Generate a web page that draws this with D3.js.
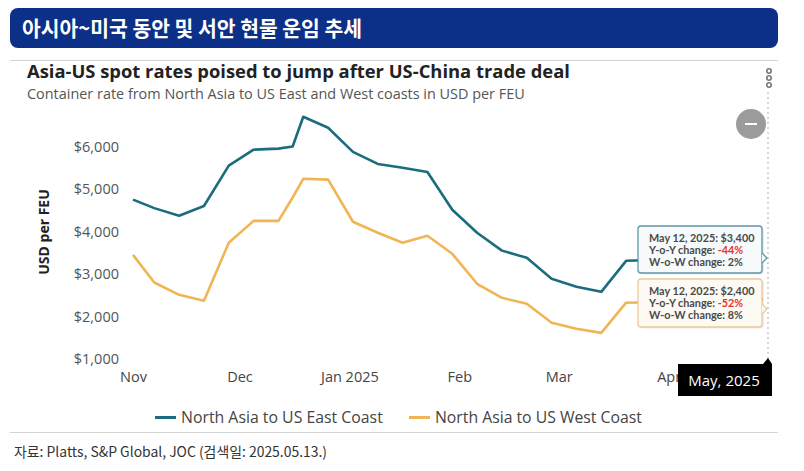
<!DOCTYPE html>
<html>
<head>
<meta charset="utf-8">
<script src="https://cdn.jsdelivr.net/npm/d3@7"></script>
<style>
  body { margin: 0; background: #fff; }
  svg { display: block; }
</style>
</head>
<body>
<svg id="chart" width="804" height="471"></svg>
<script>
// Asia-US spot rates, weekly, USD per FEU
const dates = ["2024-10-31", "2024-11-07", "2024-11-14", "2024-11-21", "2024-11-28",
               "2024-12-05", "2024-12-12", "2024-12-16", "2024-12-19", "2024-12-26",
               "2025-01-02", "2025-01-09", "2025-01-16", "2025-01-23", "2025-01-30",
               "2025-02-06", "2025-02-13", "2025-02-20", "2025-02-27", "2025-03-06",
               "2025-03-13", "2025-03-20", "2025-05-12"];
const eastCoast = [4750, 4550, 4370, 4600, 5550, 5925, 5950, 6000, 6700, 6440,
                   5875, 5590, 5500, 5400, 4510, 3970, 3550, 3380, 2890, 2700,
                   2580, 3310, 3400];
const westCoast = [3450, 2800, 2510, 2370, 3735, 4250, 4250, 4800, 5240, 5220,
                   4230, 3970, 3735, 3900, 3475, 2770, 2440, 2300, 1855, 1710,
                   1615, 2325, 2400];
const seriesNames = ["North Asia to US East Coast", "North Asia to US West Coast"];
const seriesColors = ["#1b6d7e", "#f0b554"];

const yTicks = [1000, 2000, 3000, 4000, 5000, 6000];
const xTickDates = ["2024-11-01", "2024-12-01", "2025-01-01", "2025-02-01", "2025-03-01", "2025-04-01"];
const xTickLabels = ["Nov", "Dec", "Jan 2025", "Feb", "Mar", "Apr"];

// Tooltip du dernier point
const tipDate = "May 12, 2025";
const tipValues = ["$3,400", "$2,400"];
const tipYoY = ["-44%", "-52%"];
const tipWoW = ["2%", "8%"];
const crosshairLabel = "May, 2025";

const headerText = "아시아~미국 동안 및 서안 현물 운임 추세";
const titleText = "Asia-US spot rates poised to jump after US-China trade deal";
const subtitleText = "Container rate from North Asia to US East and West coasts in USD per FEU";
const yLabel = "USD per FEU";
const sourceText = "자료: Platts, S&P Global, JOC (검색일: 2025.05.13.)";

const parse = d3.timeParse("%Y-%m-%d");
const svg = d3.select("#chart");
const font = "'Open Sans', sans-serif";
const tipFont = "Lato, sans-serif";

// Ajuste la taille de police pour obtenir une largeur donnée
function fitWidth(sel, w) {
    const cur = sel.node().getComputedTextLength();
    sel.attr("font-size", +sel.attr("font-size") * w / cur);
}

// Bandeau du haut
svg.append("rect")
    .attr("x", 10).attr("y", 8).attr("width", 768).attr("height", 40)
    .attr("rx", 8)
    .attr("fill", "#0c2f88");
svg.append("text")
    .attr("x", 22).attr("y", 36)
    .attr("font-family", "'Noto Sans CJK KR', sans-serif")
    .attr("font-weight", 700)
    .attr("font-size", 21)
    .attr("fill", "#fff")
    .attr("textLength", 340)
    .attr("lengthAdjust", "spacingAndGlyphs")
    .text(headerText);

// Lignes grises
svg.append("line").attr("x1", 10).attr("x2", 778).attr("y1", 60.5).attr("y2", 60.5)
    .attr("stroke", "#d4d4d4");
svg.append("line").attr("x1", 10).attr("x2", 778).attr("y1", 432.5).attr("y2", 432.5)
    .attr("stroke", "#d4d4d4");

// Titres
const title = svg.append("text")
    .attr("x", 27).attr("y", 78)
    .attr("font-family", font).attr("font-weight", 700).attr("font-size", 17)
    .attr("fill", "#222")
    .text(titleText);
fitWidth(title, 543);
const subtitle = svg.append("text")
    .attr("x", 27).attr("y", 98.5)
    .attr("font-family", font).attr("font-size", 14)
    .attr("fill", "#555")
    .text(subtitleText);
fitWidth(subtitle, 498);

// Icône menu (trois points)
svg.append("g").selectAll("circle")
    .data([71, 78, 85])
    .join("circle")
    .attr("cx", 769).attr("cy", d => d).attr("r", 2.2)
    .attr("fill", "#fff").attr("stroke", "#777").attr("stroke-width", 1.6);

// Bouton zoom
svg.append("circle").attr("cx", 751).attr("cy", 124).attr("r", 15).attr("fill", "#9b9b9b");
svg.append("line").attr("x1", 745).attr("x2", 757).attr("y1", 124).attr("y2", 124)
    .attr("stroke", "#fff").attr("stroke-width", 2);

// Échelles
const x = d3.scaleTime()
    .domain([parse("2024-11-01"), parse("2025-04-29")])
    .range([133, 768])
    .clamp(true);
const y = d3.scaleLinear()
    .domain([1000, 6000])
    .range([359, 146.5]);

// Axe Y (labels seulement)
const yAxis = svg.append("g")
    .attr("transform", "translate(119,0)")
    .call(d3.axisLeft(y).tickValues(yTicks).tickSize(0).tickPadding(0)
        .tickFormat(d => "$" + d3.format(",")(d)));
yAxis.select(".domain").remove();
yAxis.selectAll("text")
    .attr("font-family", font).attr("font-size", 14.5).attr("fill", "#555");

svg.append("text")
    .attr("transform", "translate(49,232) rotate(-90)")
    .attr("text-anchor", "middle")
    .attr("font-family", font).attr("font-weight", 700).attr("font-size", 14)
    .attr("fill", "#222")
    .text(yLabel);

// Axe X (labels seulement)
const xAxis = svg.append("g")
    .attr("transform", "translate(0,372)")
    .call(d3.axisBottom(x).tickValues(xTickDates.map(parse)).tickSize(0).tickPadding(0)
        .tickFormat((d, i) => xTickLabels[i]));
xAxis.select(".domain").remove();
xAxis.selectAll("text")
    .attr("font-family", font).attr("font-size", 14.5).attr("fill", "#444");

// Ligne de repère pointillée
svg.append("line")
    .attr("x1", 768).attr("x2", 768).attr("y1", 92).attr("y2", 362)
    .attr("stroke", "#bbb").attr("stroke-width", 1.2).attr("stroke-dasharray", "2,3");

// Séries
const series = [eastCoast, westCoast].map((vals, i) => ({
    name: seriesNames[i],
    color: seriesColors[i],
    points: vals.map((v, j) => ({date: parse(dates[j]), v: v}))
}));

svg.append("clipPath").attr("id", "plot-clip")
    .append("rect").attr("x", 100).attr("y", 90).attr("width", 663).attr("height", 280);

const line = d3.line().x(d => x(d.date)).y(d => y(d.v));
svg.append("g")
    .attr("clip-path", "url(#plot-clip)")
    .selectAll("path")
    .data(series)
    .join("path")
    .attr("d", d => line(d.points))
    .attr("fill", "none")
    .attr("stroke", d => d.color)
    .attr("stroke-width", 2.6)
    .attr("stroke-linejoin", "round");

// Infobulles
const tipBoxes = [
    {top: 226, h: 47, border: "#5d97a6", bg: "#f6fafb", caret: 32},
    {top: 279, h: 48, border: "#ecc99a", bg: "#fdf9f3", caret: 30}
];
tipBoxes.forEach((b, i) => {
    const g = svg.append("g");
    g.append("rect")
        .attr("x", 640).attr("y", b.top + 1.5).attr("width", 124).attr("height", b.h)
        .attr("rx", 3).attr("fill", "#000").attr("opacity", 0.08);
    g.append("rect")
        .attr("x", 638).attr("y", b.top).attr("width", 124).attr("height", b.h)
        .attr("rx", 3).attr("fill", b.bg).attr("stroke", b.border).attr("stroke-width", 1.3);
    const cy = b.top + b.caret;
    g.append("path")
        .attr("d", `M762,${cy - 5} L767,${cy} L762,${cy + 5}`)
        .attr("fill", b.bg).attr("stroke", b.border).attr("stroke-width", 1.3);
    const t = g.append("g")
        .attr("font-family", tipFont).attr("font-weight", 700).attr("font-size", 10.8)
        .attr("fill", "#4a4a4a");
    t.append("text").attr("x", 649).attr("y", b.top + 16)
        .text(tipDate + ": " + tipValues[i]);
    const yoy = t.append("text").attr("x", 649).attr("y", b.top + 28);
    yoy.append("tspan").text("Y-o-Y change: ");
    yoy.append("tspan").attr("fill", "#e5312f").text(tipYoY[i]);
    t.append("text").attr("x", 649).attr("y", b.top + 40)
        .text("W-o-W change: " + tipWoW[i]);
});

// Étiquette de date du repère
svg.append("path")
    .attr("d", "M678,364 H763 L768,358 L772,364 V396 H678 Z")
    .attr("fill", "#000");
svg.append("text")
    .attr("x", 724).attr("y", 386)
    .attr("text-anchor", "middle")
    .attr("font-family", font).attr("font-size", 15).attr("fill", "#fff")
    .text(crosshairLabel);

// Légende
const legendWidths = [202, 207];
const legend = svg.append("g").selectAll("g")
    .data(series)
    .join("g")
    .attr("transform", (d, i) => `translate(${i === 0 ? 155 : 409},0)`);
legend.append("line")
    .attr("x1", 0).attr("x2", 21).attr("y1", 417.5).attr("y2", 417.5)
    .attr("stroke", d => d.color).attr("stroke-width", 3);
legend.append("text")
    .attr("x", 26).attr("y", 423)
    .attr("font-family", font).attr("font-size", 15).attr("fill", "#444")
    .text(d => d.name)
    .each(function(d, i) { fitWidth(d3.select(this), legendWidths[i]); });

// Source
svg.append("text")
    .attr("x", 14).attr("y", 457)
    .attr("font-family", "'Noto Sans CJK KR', sans-serif")
    .attr("font-size", 14)
    .attr("fill", "#333")
    .attr("textLength", 313)
    .attr("lengthAdjust", "spacingAndGlyphs")
    .text(sourceText);
</script>
</body>
</html>
